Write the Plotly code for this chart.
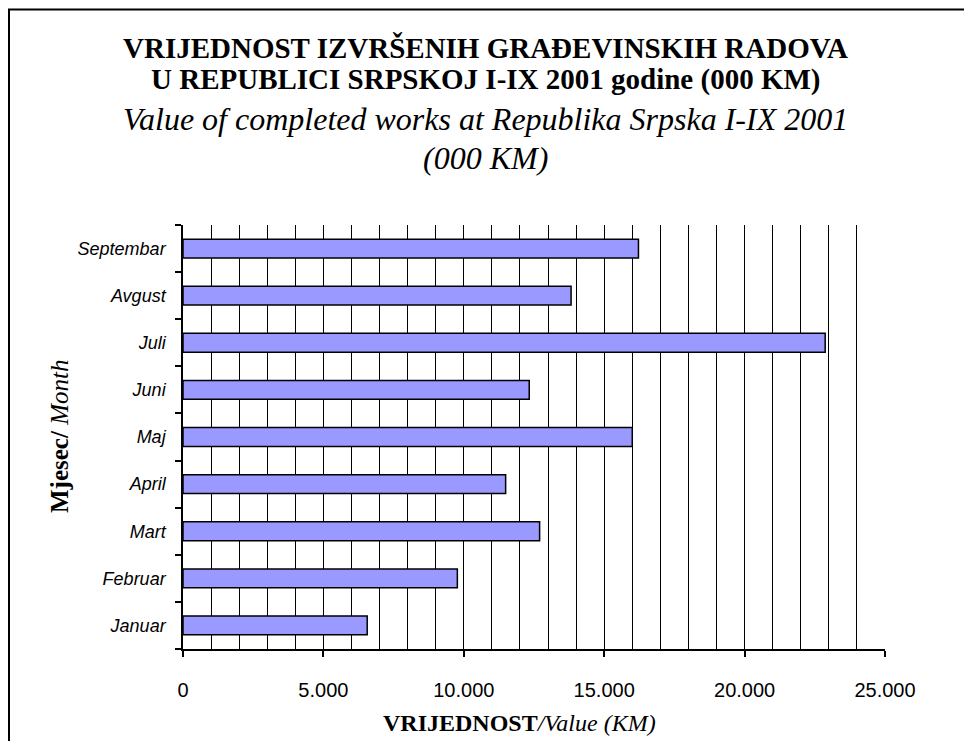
import plotly.graph_objects as go

months = ["Januar", "Februar", "Mart", "April", "Maj", "Juni", "Juli", "Avgust", "Septembar"]
values = [6560, 9770, 12700, 11490, 16000, 12330, 22870, 13820, 16220]
x_tickvals = [0, 5000, 10000, 15000, 20000, 25000]
x_ticktext = ["0", "5.000", "10.000", "15.000", "20.000", "25.000"]

# figure sits at an 8px page offset; target page coords minus 8
W, H = 956, 733
L, R, T, B = 175, 79, 217, 92
pw, ph = W - L - R, H - T - B

def px(xp):
    return (xp - L) / pw

def py(yp):
    return (H - B - yp) / ph

fig = go.Figure()
fig.add_trace(go.Bar(
    y=months, x=values, orientation="h",
    marker=dict(color="#9999FF", line=dict(color="black", width=1.5)),
    width=0.4,
))

serif = "Liberation Serif, Times New Roman, serif"
sans = "Liberation Sans, Arial, sans-serif"

fig.update_layout(
    width=W, height=H,
    margin=dict(l=L, r=R, t=T, b=B),
    paper_bgcolor="white", plot_bgcolor="white",
    showlegend=False,
    xaxis=dict(
        range=[0, 25000],
        tickvals=x_tickvals, ticktext=x_ticktext,
        ticks="outside", ticklen=6, tickcolor="black", tickwidth=1.5,
        showline=True, linecolor="black", linewidth=1.5,
        showgrid=True, gridcolor="black", gridwidth=1,
        minor=dict(dtick=1000, tick0=0, showgrid=True, gridcolor="black", gridwidth=1),
        tickfont=dict(family=sans, size=20, color="black"),
        ticklabelstandoff=16,
        zeroline=False, fixedrange=True,
    ),
    yaxis=dict(
        categoryorder="array", categoryarray=months,
        ticks="outside", ticklen=6, tickcolor="black", tickwidth=1.5,
        tickson="boundaries",
        showline=True, linecolor="black", linewidth=1.5,
        showgrid=False,
        tickfont=dict(family=sans, size=18, color="black", style="italic"),
        ticklabelstandoff=12,
        fixedrange=True,
    ),
    shapes=[
        dict(type="line", xref="paper", yref="paper",
             x0=px(1), x1=px(1), y0=py(H), y1=py(1.5),
             line=dict(color="black", width=2)),
        dict(type="line", xref="paper", yref="paper",
             x0=px(0), x1=px(W), y0=py(1.5), y1=py(1.5),
             line=dict(color="black", width=2)),
    ],
)

anns = [
    ("<b>VRIJEDNOST IZVRŠENIH GRAĐEVINSKIH RADOVA</b>", 40, "normal", 29),
    ("<b>U REPUBLICI SRPSKOJ I-IX 2001 godine (000 KM)</b>", 72, "normal", 29),
    ("Value of completed works at Republika Srpska I-IX 2001", 111, "italic", 32),
    ("(000 KM)", 150, "italic", 32),
]
for text, yp, st, sz in anns:
    fig.add_annotation(text=text, xref="paper", yref="paper",
                       x=px(477), y=py(yp), xanchor="center", yanchor="middle",
                       showarrow=False,
                       font=dict(family=serif, size=sz, color="black", style=st))

fig.add_annotation(text="<b>VRIJEDNOST</b><i>/Value (KM)</i>", xref="paper", yref="paper",
                   x=px(511), y=py(715), xanchor="center", yanchor="middle",
                   showarrow=False, font=dict(family=serif, size=24, color="black"))
fig.add_annotation(text="<b>Mjesec/</b> <i>Month</i>", xref="paper", yref="paper",
                   x=px(51), y=py(429), xanchor="center", yanchor="middle",
                   textangle=-90, showarrow=False,
                   font=dict(family=serif, size=25, color="black"))

fig.write_html("out.html")
